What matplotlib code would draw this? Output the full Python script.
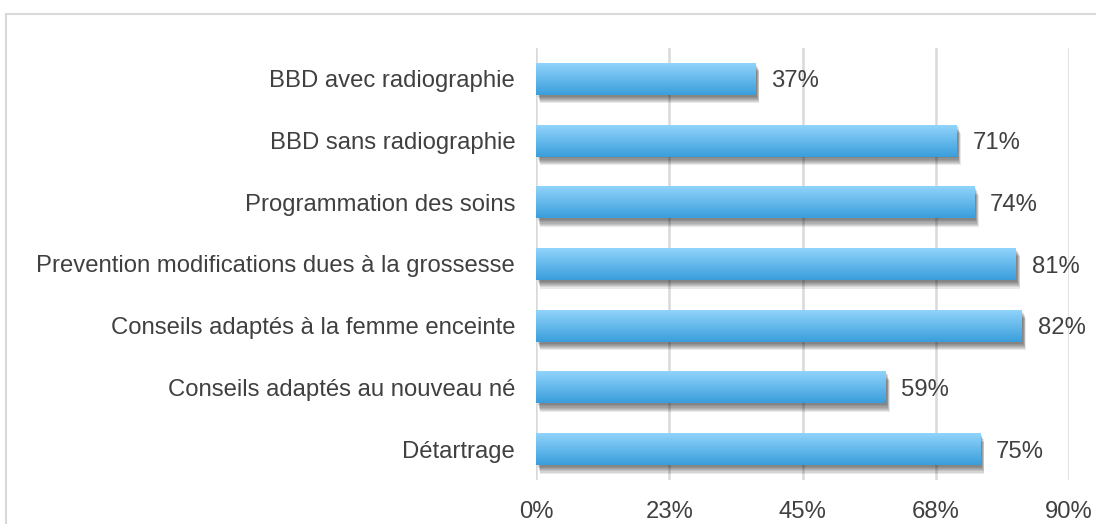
import numpy as np
import matplotlib
matplotlib.use("Agg")
import matplotlib.pyplot as plt
from matplotlib.patches import Rectangle
from matplotlib.colors import LinearSegmentedColormap

categories = ["BBD avec radiographie", "BBD sans radiographie", "Programmation des soins",
              "Prevention modifications dues à la grossesse", "Conseils adaptés à la femme enceinte",
              "Conseils adaptés au nouveau né", "Détartrage"]
values = [37, 71, 74, 81, 82, 59, 75]
tick_values = [0, 22.5, 45, 67.5, 90]
tick_labels = ["0%", "23%", "45%", "68%", "90%"]

plt.rcParams['font.family'] = ['Liberation Sans', 'DejaVu Sans']

fig = plt.figure(figsize=(10.96, 5.24), dpi=100)
fig.patches.append(Rectangle((6/1096, -0.5), 2.0, 1.5 - 14/524, transform=fig.transFigure,
                             fill=False, edgecolor="#d9d9d9", linewidth=1.5, zorder=0))
ax = fig.add_axes([536/1096, 1 - 480/524, (1069 - 536)/1096, 432/524])

n = len(categories)
ypos = np.arange(n)[::-1]
h = 0.52
cmap = LinearSegmentedColormap.from_list("g", ["#3a9edb", "#93d5fc"])
grad = np.linspace(0, 1, 64).reshape(-1, 1)

ax.set_xlim(0, 90)
ax.set_ylim(-0.5, n - 0.5)

fs = 17.2

for y, v in zip(ypos, values):
    # shadow
    for k in range(7):
        off = 0.018 * k
        ax.add_patch(Rectangle((0.3 + 0.07 * k, y - h / 2 - 0.03 - off), v, h,
                               facecolor="#000000", alpha=0.085, edgecolor="none", zorder=2))
    bar = ax.barh(y, v, height=h, color="none", edgecolor="none", zorder=3)[0]
    im = ax.imshow(grad, cmap=cmap, aspect="auto", extent=[0, v, y - h / 2, y + h / 2],
                   origin="lower", zorder=3)
    im.set_clip_path(bar)
    ax.text(v + 2.7, y - 0.14, f"{v}%", va="baseline", ha="left", fontsize=fs,
            color="#404040", zorder=4)

ax.set_xlim(0, 90)
ax.set_ylim(-0.5, n - 0.5)
ax.set_yticks(ypos)
ax.set_yticklabels(categories, fontsize=fs, color="#404040")
ax.set_xticks(tick_values)
ax.set_xticklabels(tick_labels, fontsize=fs, color="#404040")
ax.tick_params(axis="both", length=0)
ax.tick_params(axis="y", pad=15)
ax.tick_params(axis="x", pad=15)
ax.grid(axis="x", color="#d9d9d9", linewidth=1.8, zorder=0)
ax.set_axisbelow(True)
for s in ax.spines.values():
    s.set_visible(False)

fig.savefig("out.png", dpi=100)
